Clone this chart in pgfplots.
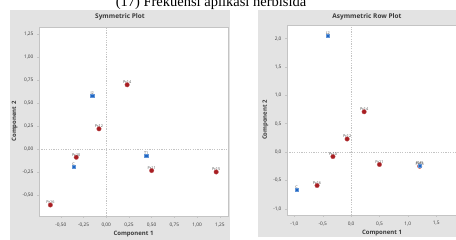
\documentclass[border=0pt]{standalone}
\usepackage{pgfplots}
\pgfplotsset{compat=1.18}
\usepackage{fontspec}
\setmainfont{Liberation Serif}
\newfontfamily\ui{Open Sans}
\definecolor{panel}{HTML}{E3E3E3}
\definecolor{frame}{HTML}{C4C4C4}
\definecolor{ptred}{HTML}{A81E22}
\definecolor{ptblue}{HTML}{1E66C4}
\definecolor{txt}{HTML}{3A3A3A}
\pgfplotsset{
  mm/.style={
    scale only axis,
    anchor=south west,
    axis background/.style={fill=white},
    axis line style={frame, line width=0.5pt},
    tick style={frame, line width=0.4pt},
    tick align=outside,
    major tick length=2pt,
    xtick pos=bottom, ytick pos=left,
    tick label style={font=\ui\fontsize{4.8}{5}\selectfont, text=txt},
    /pgf/number format/assume math mode=true,
    /pgf/number format/use comma,
    /pgf/number format/fixed,
    /pgf/number format/fixed zerofill,
    label style={font=\ui\bfseries\fontsize{6}{7}\selectfont, text=txt},
    xticklabel style={yshift=-1pt},
    clip=false,
  },
  lbl/.style={every node near coord/.append style={font=\ui\fontsize{3.8}{4}\selectfont, text=txt!90, inner sep=0.8pt, yshift=0.2pt}},
  redpt/.style={only marks, mark=*, mark size=2.3pt, mark options={fill=ptred, draw=ptred!70!white, line width=0.3pt},
    nodes near coords, point meta=explicit symbolic, lbl},
  bluept/.style={only marks, mark=square*, mark size=1.6pt, mark options={fill=ptblue, draw=ptblue!70!white, line width=0.3pt},
    nodes near coords, point meta=explicit symbolic, lbl},
}
\begin{document}
\begin{tikzpicture}
\clip (0pt,0pt) rectangle (456pt,240pt);
\path[use as bounding box] (0pt,0pt) rectangle (456pt,240pt);
% panels
\fill[panel] (10pt,0pt) rectangle (230pt,230pt);
\fill[panel] (258pt,3pt) rectangle (470pt,230pt);
\node[font=\ui\bfseries\fontsize{6.5}{7}\selectfont, text=txt] at (120pt,223.5pt) {Symmetric Plot};
\node[font=\ui\bfseries\fontsize{6.5}{7}\selectfont, text=txt] at (367pt,223.5pt) {Asymmetric Row Plot};
\node[font=\fontsize{14.5}{16}\selectfont, anchor=base, inner sep=0pt] at (211pt,233.5pt) {(17) Frekuensi aplikasi herbisida};

\begin{axis}[mm,
  at={(39pt,24pt)}, width=189pt, height=189pt,
  xmin=-0.74, xmax=1.34, ymin=-0.73, ymax=1.33,
  xtick={-0.5,-0.25,0,0.25,0.5,0.75,1,1.25},
  ytick={-0.5,-0.25,0,0.25,0.5,0.75,1,1.25},
  /pgf/number format/precision=2,
  xlabel={Component 1}, ylabel={Component 2},
  xlabel style={yshift=2pt}, ylabel style={yshift=-2pt},
]
\draw[frame, line width=0.4pt, dash pattern=on 1.2pt off 1.2pt] (axis cs:0,-0.73) -- (axis cs:0,1.33);
\draw[frame, line width=0.4pt, dash pattern=on 1.2pt off 1.2pt] (axis cs:-0.74,0) -- (axis cs:1.34,0);
\addplot[redpt] table[meta=l] {
x y l
-0.615 -0.61 Pr16
-0.33 -0.09 Pr10
-0.08 0.22 Pr12
0.23 0.70 Pr14
0.50 -0.235 Pr11
1.21 -0.25 Pr15
};
\addplot[bluept] table[meta=l] {
x y l
-0.36 -0.195 C
-0.155 0.58 I2
0.44 -0.075 T1
};
\end{axis}

\begin{axis}[mm,
  at={(287pt,25pt)}, width=190pt, height=190pt,
  xmin=-1.13, xmax=2.22, ymin=-1.11, ymax=2.24,
  xtick={-1,-0.5,0,0.5,1,1.5},
  ytick={-1,-0.5,0,0.5,1,1.5,2},
  /pgf/number format/precision=1,
  xlabel={Component 1}, ylabel={Component 2},
  xlabel style={yshift=2pt}, ylabel style={yshift=-2pt},
]
\draw[frame, line width=0.4pt, dash pattern=on 1.2pt off 1.2pt] (axis cs:0,-1.11) -- (axis cs:0,2.24);
\draw[frame, line width=0.4pt, dash pattern=on 1.2pt off 1.2pt] (axis cs:-1.13,0) -- (axis cs:2.22,0);
\addplot[redpt] table[meta=l] {
x y l
-0.60 -0.59 Pr16
-0.32 -0.08 Pr10
-0.07 0.23 Pr12
0.23 0.71 Pr14
0.50 -0.22 Pr11
1.21 -0.25 Pr15
};
\addplot[bluept] table[meta=l] {
x y l
-0.41 2.05 L2
-0.96 -0.66 C
1.21 -0.24 PM5
};
\end{axis}
\end{tikzpicture}
\end{document}
